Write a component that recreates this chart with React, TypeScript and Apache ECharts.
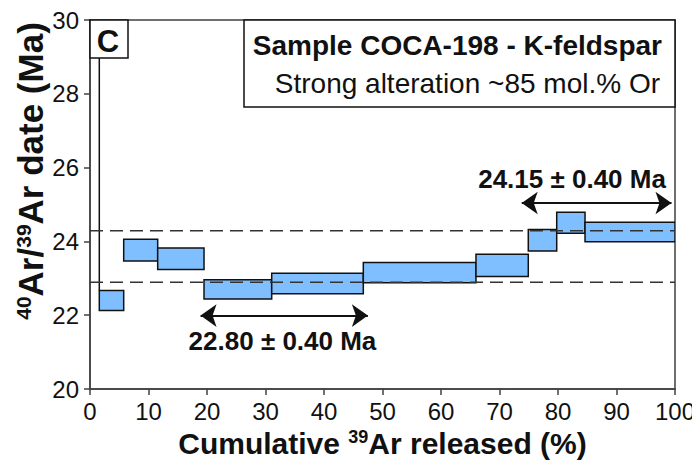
import React, { useEffect, useRef } from 'react';
import * as echarts from 'echarts';

// Step-heating spectrum: cumulative 39Ar (%) start/end and apparent age band (Ma)
const stepStart = [1.59, 5.76, 11.57, 19.49, 31.06, 46.72, 65.98, 74.92, 79.78, 84.62];
const stepEnd = [5.76, 11.57, 19.49, 31.06, 46.72, 65.98, 74.92, 79.78, 84.62, 100];
const ageLow = [22.13, 23.47, 23.24, 22.44, 22.58, 22.88, 23.05, 23.74, 24.22, 23.99];
const ageHigh = [22.67, 24.06, 23.82, 22.96, 23.14, 23.43, 23.65, 24.32, 24.79, 24.52];

// first (off-scale) step boundary
const firstStepEnd = 1.59;

// plateau reference lines (Ma)
const plateauLines = [24.29, 22.89];

// plateau arrows: [xStart, xEnd, y]
const arrowLow = [18.9, 47.5, 21.99];
const arrowHigh = [73.8, 99.4, 25.04];

// plateau labels: [x, y, text]
const labelLow: [number, number, string] = [32.9, 21.31, '22.80 ± 0.40 Ma'];
const labelHigh: [number, number, string] = [82.4, 25.7, '24.15 ± 0.40 Ma'];

const xTicks = [0, 10, 20, 30, 40, 50, 60, 70, 80, 90, 100];
const yTicks = [20, 22, 24, 26, 28, 30];

const FONT = "'Liberation Sans', Arial, Helvetica, sans-serif";

export default function App() {
  const ref = useRef<HTMLDivElement>(null);
  useEffect(() => {
    document.body.style.margin = '0';
    const chart = echarts.init(ref.current!, null, { renderer: 'svg' });
    const boxData = stepStart.map((s, i) => [s, stepEnd[i], ageLow[i], ageHigh[i]]);
    const arrowStyle = { color: '#111', width: 2, type: 'solid' as const, opacity: 1 };
    chart.setOption({
      animation: false,
      textStyle: { fontFamily: FONT },
      grid: {
        left: 90,
        right: 17,
        top: 20,
        bottom: 80,
        containLabel: false,
        outerBoundsMode: 'none',
        show: true,
        borderColor: '#404040',
        borderWidth: 1.5,
        backgroundColor: 'transparent',
      },
      xAxis: {
        type: 'value',
        min: xTicks[0],
        max: xTicks[xTicks.length - 1],
        interval: 10,
        name: 'Cumulative {sup|39}Ar released (%)',
        nameLocation: 'middle',
        nameGap: 39,
        nameTextStyle: {
          fontSize: 30,
          fontWeight: 'bold',
          color: '#111',
          fontFamily: FONT,
          rich: {
            sup: { fontSize: 18, fontWeight: 'bold', color: '#111', verticalAlign: 'top', fontFamily: FONT },
          },
        },
        axisLine: { show: true, lineStyle: { color: '#404040', width: 1.5 } },
        axisTick: { show: true, length: 6, lineStyle: { color: '#404040', width: 1.5 } },
        axisLabel: { fontSize: 24, color: '#111', margin: 10, fontFamily: FONT },
        splitLine: { show: false },
      },
      yAxis: {
        type: 'value',
        min: yTicks[0],
        max: yTicks[yTicks.length - 1],
        interval: 2,
        axisLine: { show: true, lineStyle: { color: '#404040', width: 1.5 } },
        axisTick: { show: true, length: 6, lineStyle: { color: '#404040', width: 1.5 } },
        axisLabel: { fontSize: 24, color: '#111', margin: 11, fontFamily: FONT },
        splitLine: { show: false },
      },
      series: [
        {
          type: 'custom',
          name: 'steps',
          data: boxData,
          encode: { x: [0, 1], y: [2, 3] },
          clip: true,
          z: 2,
          renderItem: (params: any, api: any) => {
            const p0 = api.coord([api.value(0), api.value(3)]);
            const p1 = api.coord([api.value(1), api.value(2)]);
            return {
              type: 'rect',
              shape: { x: p0[0], y: p0[1], width: p1[0] - p0[0], height: p1[1] - p0[1] },
              style: { fill: '#80BFFF', stroke: '#111', lineWidth: 1.5 },
            };
          },
        },
        {
          type: 'line',
          name: 'firstStep',
          data: [
            [firstStepEnd, ageHigh[0]],
            [firstStepEnd, yTicks[yTicks.length - 1]],
          ],
          symbol: 'none',
          lineStyle: { color: '#111', width: 1.5 },
          z: 3,
        },
        ...plateauLines.map((v) => ({
          type: 'line',
          data: [
            [xTicks[0], v],
            [xTicks[xTicks.length - 1], v],
          ],
          symbol: 'none',
          lineStyle: { color: '#333', width: 1.5, type: [13, 7] },
          z: 4,
        })),
        {
          type: 'scatter',
          name: 'annotations',
          symbolSize: 0,
          z: 5,
          itemStyle: { opacity: 1 },
          data: [
            { value: [labelLow[0], labelLow[1]], name: labelLow[2] },
            { value: [labelHigh[0], labelHigh[1]], name: labelHigh[2] },
          ],
          label: {
            show: true,
            position: 'inside',
            formatter: '{b}',
            fontSize: 26,
            fontWeight: 'bold',
            color: '#111',
            opacity: 1,
            fontFamily: FONT,
          },
          markLine: {
            silent: true,
            symbol: ['arrow', 'arrow'],
            symbolSize: [17, 16],
            label: { show: false },
            lineStyle: arrowStyle,
            itemStyle: { color: '#111', opacity: 1 },
            data: [
              [
                { coord: [arrowLow[0], arrowLow[2]] },
                { coord: [arrowLow[1], arrowLow[2]] },
              ],
              [
                { coord: [arrowHigh[0], arrowHigh[2]] },
                { coord: [arrowHigh[1], arrowHigh[2]] },
              ],
            ],
          },
        },
      ],
      graphic: [
        {
          type: 'rect',
          z: 100,
          shape: { x: 244, y: 20, width: 431, height: 87 },
          style: { fill: '#fff', stroke: '#111', lineWidth: 1.5 },
        },
        {
          type: 'text',
          z: 101,
          x: 662,
          y: 45,
          style: {
            text: 'Sample COCA-198 - K-feldspar',
            fontSize: 28,
            fontWeight: 'bold',
            fill: '#111',
            align: 'right',
            verticalAlign: 'middle',
            fontFamily: FONT,
          },
        },
        {
          type: 'text',
          z: 101,
          x: 660,
          y: 83,
          style: {
            text: 'Strong alteration ~85 mol.% Or',
            fontSize: 28,
            fill: '#111',
            align: 'right',
            verticalAlign: 'middle',
            fontFamily: FONT,
          },
        },
        {
          type: 'rect',
          z: 100,
          shape: { x: 90, y: 20, width: 38, height: 38 },
          style: { fill: '#fff', stroke: '#111', lineWidth: 1.5 },
        },
        {
          type: 'text',
          z: 101,
          x: 108,
          y: 41,
          style: {
            text: 'C',
            fontSize: 31,
            fontWeight: 'bold',
            fill: '#111',
            align: 'center',
            verticalAlign: 'middle',
            fontFamily: FONT,
          },
        },
        {
          type: 'text',
          z: 101,
          x: 30,
          y: 171,
          rotation: Math.PI / 2,
          style: {
            text: '{sup|40}{b|Ar/}{sup|39}{b|Ar date (Ma)}',
            align: 'center',
            verticalAlign: 'middle',
            fontFamily: FONT,
            rich: {
              sup: { fontSize: 21, fontWeight: 'bold', fill: '#111', verticalAlign: 'top', fontFamily: FONT },
              b: { fontSize: 35, fontWeight: 'bold', fill: '#111', fontFamily: FONT },
            },
          },
        },
      ],
    });
    return () => chart.dispose();
  }, []);
  return <div ref={ref} style={{ width: 692, height: 469 }} />;
}
